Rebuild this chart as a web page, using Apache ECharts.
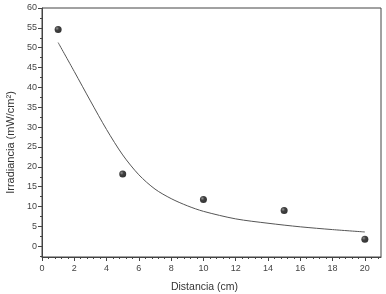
<!DOCTYPE html>
<html>
<head>
<meta charset="utf-8">
<script src="https://cdn.jsdelivr.net/npm/echarts@6/dist/echarts.min.js"></script>
<style>
  html, body { margin: 0; padding: 0; background: #fff; }
  #chart { width: 386px; height: 294px; }
</style>
</head>
<body>
<div id="chart"></div>
<script>
// measured points
const distances = [1, 5, 10, 15, 20];
const irradiance = [54.6, 18.2, 11.8, 9.0, 1.8];

// fitted decay curve
const fitX = [1, 2, 3, 4, 5, 6, 7, 8, 9, 10, 12, 14, 16, 18, 20];
const fitY = [51.3, 44.0, 36.6, 29.4, 23.0, 18.0, 14.4, 12.0, 10.2, 8.8, 6.9, 5.8, 4.9, 4.2, 3.6];

const xTicks = [0, 2, 4, 6, 8, 10, 12, 14, 16, 18, 20];
const yTicks = [0, 5, 10, 15, 20, 25, 30, 35, 40, 45, 50, 55, 60];

const xMinor = [];
for (let v = 0.4; v < 21; v += 0.4) xMinor.push(+v.toFixed(1));
const yMinor = [];
for (let v = -2.5; v <= 60; v += 2.5) yMinor.push(v);

const axisColor = "#444";
const font = "Liberation Sans, Arial, sans-serif";

const chart = echarts.init(document.getElementById("chart"));

const option = {
    animation: false,
    grid: {
        left: 42,
        right: 5,
        top: 8,
        bottom: 37,
        outerBoundsMode: "none",
        containLabel: false,
        show: true,
        borderColor: axisColor,
        borderWidth: 1,
    },
    xAxis: [
        {
            type: "value",
            min: 0,
            max: 21,
            name: "Distancia (cm)",
            nameLocation: "middle",
            nameGap: 25,
            nameTextStyle: {
                fontFamily: font,
                fontSize: 10.5,
                color: "#333",
                padding: [0, 14, 0, 0],
            },
            axisLine: { show: true, onZero: false, lineStyle: { color: axisColor } },
            axisTick: {
                show: true,
                length: 4,
                customValues: xTicks,
                lineStyle: { color: axisColor },
            },
            axisLabel: {
                customValues: xTicks,
                fontFamily: font,
                fontSize: 9,
                color: "#444",
                margin: 7,
            },
            splitLine: { show: false },
        },
        {
            type: "value",
            position: "bottom",
            min: 0,
            max: 21,
            axisLine: { show: false, onZero: false },
            axisTick: {
                show: true,
                length: 2,
                customValues: xMinor,
                lineStyle: { color: axisColor },
            },
            axisLabel: { show: false },
            splitLine: { show: false },
        },
    ],
    yAxis: [
        {
            type: "value",
            min: -2.7,
            max: 60,
            name: "Irradiancia (mW/cm²)",
            nameLocation: "middle",
            nameGap: 25,
            nameTextStyle: {
                fontFamily: font,
                fontSize: 11,
                color: "#333",
                padding: [0, 20, 0, 0],
            },
            axisLine: { show: true, onZero: false, lineStyle: { color: axisColor } },
            axisTick: {
                show: true,
                length: 4,
                customValues: yTicks,
                lineStyle: { color: axisColor },
            },
            axisLabel: {
                customValues: yTicks,
                fontFamily: font,
                fontSize: 9,
                color: "#444",
                margin: 5,
            },
            splitLine: { show: false },
        },
        {
            type: "value",
            position: "left",
            min: -2.7,
            max: 60,
            axisLine: { show: false, onZero: false },
            axisTick: {
                show: true,
                length: 2,
                customValues: yMinor,
                lineStyle: { color: axisColor },
            },
            axisLabel: { show: false },
            splitLine: { show: false },
        },
    ],
    series: [
        {
            name: "fit",
            type: "line",
            data: fitX.map((x, i) => [x, fitY[i]]),
            smooth: 0.3,
            showSymbol: false,
            lineStyle: { color: "#555", width: 1 },
            z: 2,
        },
        {
            name: "data",
            type: "scatter",
            data: distances.map((x, i) => [x, irradiance[i]]),
            symbolSize: 7,
            itemStyle: {
                color: new echarts.graphic.RadialGradient(0.35, 0.35, 0.7, [
                    { offset: 0, color: "#777" },
                    { offset: 0.4, color: "#111" },
                    { offset: 1, color: "#000" },
                ]),
            },
            z: 3,
        },
    ],
};

chart.setOption(option);
</script>
</body>
</html>
